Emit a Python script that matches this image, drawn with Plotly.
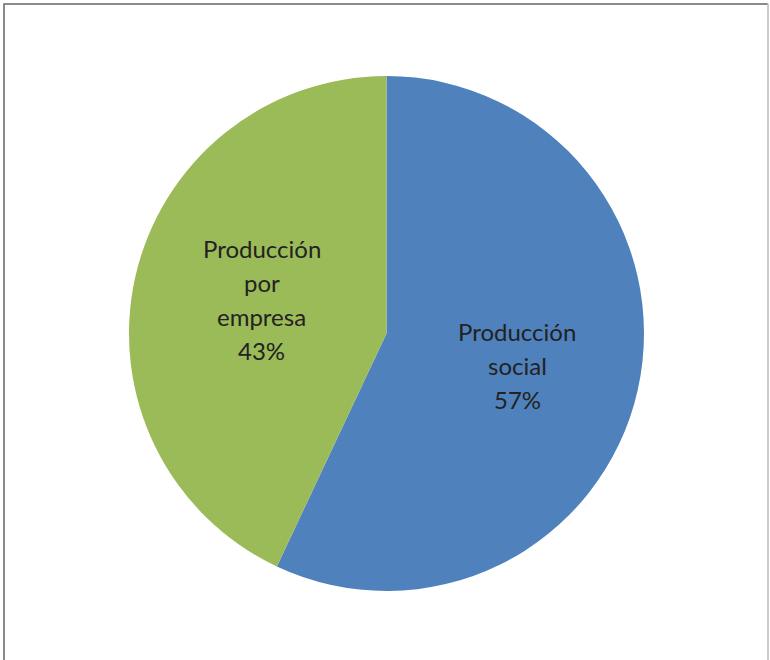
import plotly.graph_objects as go

# Share of production by type
labels = ["Producción social", "Producción por empresa"]
values = [57, 43]
colors = ["#4F81BD", "#9BBB59"]

# Label line breaks as they appear on the slices
label_lines = [["Producción", "social"], ["Producción", "por", "empresa"]]

W, H = 770, 660
cx, cy, r = 386.5, 333.5, 257.5

fig = go.Figure(
    go.Pie(
        labels=labels,
        values=values,
        marker=dict(colors=colors, line=dict(width=0)),
        sort=False,
        direction="clockwise",
        rotation=0,
        textinfo="none",
        hoverinfo="label+percent",
        showlegend=False,
        domain=dict(
            x=[(cx - r) / W, (cx + r) / W],
            y=[1 - (cy + r) / H, 1 - (cy - r) / H],
        ),
    )
)

# Text blocks drawn line by line (centre x, first-line y in pixels)
text_pos = [(517, 331.5), (261.5, 248.5)]
line_gap = 34
total = sum(values)
annotations = []
for lines, val, (tx, ty) in zip(label_lines, values, text_pos):
    rows = lines + [f"{round(100 * val / total)}%"]
    for i, row in enumerate(rows):
        y = ty + i * line_gap
        annotations.append(
            dict(
                text=row,
                x=tx / W,
                y=1 - y / H,
                xref="paper",
                yref="paper",
                xanchor="center",
                yanchor="middle",
                showarrow=False,
                font=dict(family="Lato", size=24, color="#222222"),
            )
        )

# Grey frame along the top, left and right edges
frame = "#8a8a8a"
shapes = [
    dict(type="line", xref="paper", yref="paper",
         x0=3.5 / W, x1=768 / W, y0=1 - 4 / H, y1=1 - 4 / H,
         line=dict(color=frame, width=2)),
    dict(type="line", xref="paper", yref="paper",
         x0=4 / W, x1=4 / W, y0=0, y1=1 - 3.5 / H,
         line=dict(color=frame, width=2)),
    dict(type="line", xref="paper", yref="paper",
         x0=768 / W, x1=768 / W, y0=0, y1=1 - 3.5 / H,
         line=dict(color="#bdbdbd", width=1.5)),
]

fig.update_layout(
    width=W,
    height=H,
    margin=dict(l=0, r=0, t=0, b=0),
    paper_bgcolor="white",
    plot_bgcolor="white",
    annotations=annotations,
    shapes=shapes,
)

fig.write_html("out.html")
